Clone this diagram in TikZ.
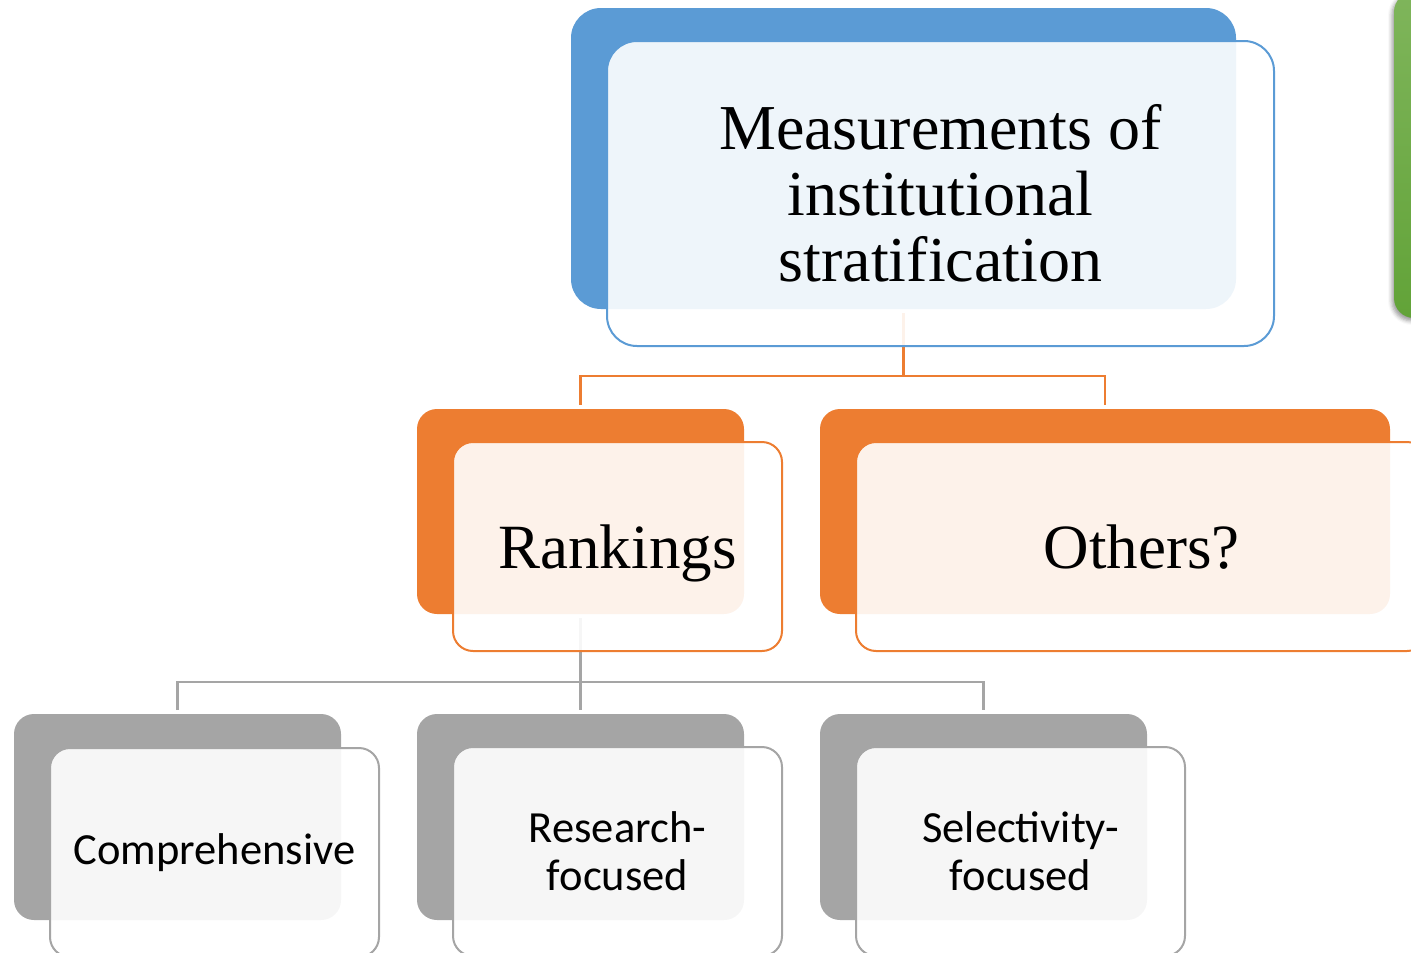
\documentclass[tikz,border=0pt]{standalone}
\usepackage{fontspec}
\setmainfont{Liberation Serif}
\newfontfamily\labelsans{Carlito}
\usetikzlibrary{shadows.blur}

\definecolor{accblue}{HTML}{5B9BD5}
\definecolor{accorange}{HTML}{ED7D31}
\definecolor{accgray}{HTML}{A5A5A5}
\definecolor{accgreenA}{HTML}{7FB55B}
\definecolor{accgreenB}{HTML}{62A338}

\tikzset{
  box/.style={rectangle, inner sep=0pt, outer sep=0pt},
  backbox/.style={box, fill=#1, draw=none},
  frontbox/.style={box, fill=white, fill opacity=0.9, text opacity=1,
                   draw=#1, line width=2pt, align=center},
  bigback/.style={backbox=accblue, minimum width=665pt, minimum height=301pt, rounded corners=30pt},
  bigfront/.style={frontbox=accblue, minimum width=667pt, minimum height=305pt, rounded corners=30pt,
                   font=\fontsize{64}{66}\selectfont},
  midback/.style={backbox=accorange, minimum height=205pt, rounded corners=20pt},
  midfront/.style={frontbox=accorange, minimum height=209pt, rounded corners=20pt,
                   text depth=0pt, font=\fontsize{63}{66}\selectfont},
  lowback/.style={backbox=accgray, minimum width=327pt, minimum height=206pt, rounded corners=20pt},
  lowfront/.style={frontbox=accgray, minimum width=329pt, minimum height=209pt, rounded corners=20pt,
                   font=\labelsans\fontsize{44.5}{48}\selectfont},
  link/.style={draw=#1, line width=2.2pt},
}

\begin{document}
\begin{tikzpicture}[x=1pt, y=-1pt]
  \useasboundingbox (0,0) rectangle (1411,953);
  \clip (0,0) rectangle (1411,953);

  % neighbouring branch, mostly off the page
  \node[box, minimum width=80pt, minimum height=326pt, rounded corners=20pt,
        top color=accgreenA, bottom color=accgreenB,
        blur shadow={shadow xshift=-2pt, shadow yshift=-3pt, shadow blur radius=4pt, shadow opacity=40}]
        (greenbox) at (1434,155) {};

  % coloured back panels
  \node[bigback] (topback) at (903.5,158.5) {};
  \node[midback, minimum width=327pt] (rankback) at (580.5,511.5) {};
  \node[midback, minimum width=570pt] (othback) at (1105,511.5) {};
  \node[lowback] (compback) at (177.5,817) {};
  \node[lowback] (resback) at (580.5,817) {};
  \node[lowback] (selback) at (983.5,817) {};

  % connectors
  \coordinate (bus1) at (903.5,376);
  \coordinate (bus2) at (580.5,682);
  \draw[link=accorange, shorten <=4pt] (topback.south) -- (bus1);
  \draw[link=accorange, shorten <=4pt, shorten >=4pt] (rankback.north) |- (bus1) -| (othback.north);
  \draw[link=accgray, shorten <=4pt, shorten >=4pt] (rankback.south) -- (resback.north);
  \draw[link=accgray, shorten <=4pt, shorten >=4pt] (compback.north) |- (bus2) -| (selback.north);

  % front cards with the labels
  \node[bigfront] (top) at (940.5,193.5) {Measurements of\\institutional\\stratification};
  \node[midfront, minimum width=329pt] (rank) at (617.5,546.5) {Rankings};
  \node[midfront, minimum width=571pt] (oth) at (1141.5,546.5) {Others?};
  \node[lowfront] (comp) at (214.5,852.5) {Comprehensive};
  \node[lowfront] (res) at (617.5,851.5) {Research-\\focused};
  \node[lowfront] (sel) at (1020.5,851.5) {Selectivity-\\focused};
\end{tikzpicture}
\end{document}
